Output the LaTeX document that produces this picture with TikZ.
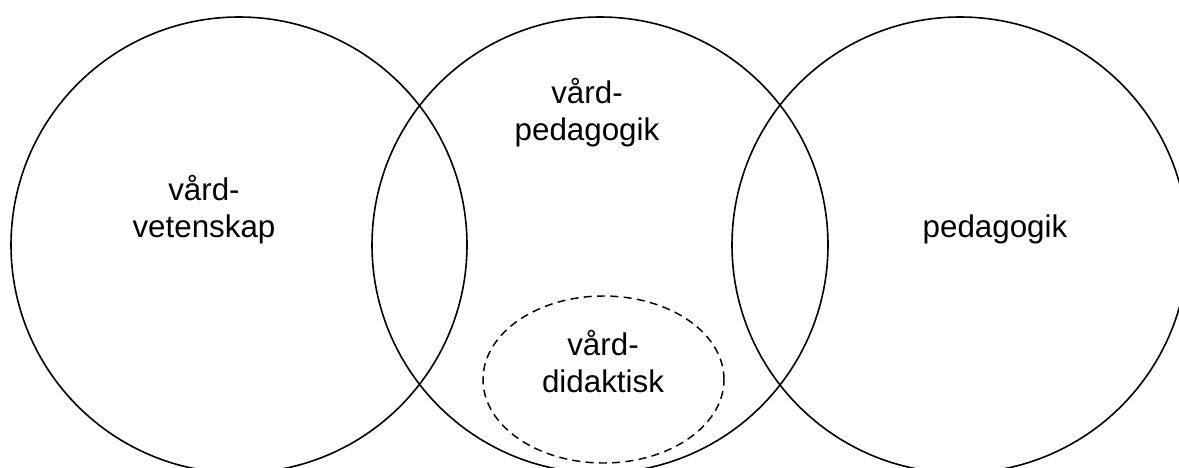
\documentclass[tikz,border=0pt]{standalone}
\usepackage{fontspec}
\setmainfont{Liberation Sans}
\usetikzlibrary{shapes.geometric}
\begin{document}
\begin{tikzpicture}[x=0.75pt,y=-0.75pt,
  field/.style={circle,draw=black,line width=1.2pt,minimum size=342pt,inner sep=0pt},
  subfield/.style={ellipse,draw=black,line width=1.1pt,dash pattern=on 6pt off 4pt,
    minimum width=180.75pt,minimum height=125.25pt,inner sep=0pt},
  term/.style={align=center,inner sep=0pt,font=\fontsize{23.5pt}{27.75pt}\selectfont}]
  \useasboundingbox (0,0) rectangle (1179,468);
  \clip (0,0) rectangle (1179,468);
  \fill[white] (0,0) rectangle (1179,468);
  % three overlapping fields
  \node[field] (vv) at (239,245) {};
  \node[field] (vp) at (600,245) {};
  \node[field] (pd) at (960,245) {};
  % didactics inside care pedagogy
  \node[subfield] (vd) at (603.5,379.5) {};
  % labels (anchored at the baseline of the last line)
  \node[term,anchor=base] (tvv) at (204,237) {vård-\\vetenskap};
  \node[term,anchor=base] (tvp) at (587,140) {vård-\\pedagogik};
  \node[term,anchor=base] (tvd) at (603,392) {vård-\\didaktisk};
  \node[term,anchor=base] (tpd) at (995,237) {pedagogik};
\end{tikzpicture}
\end{document}
